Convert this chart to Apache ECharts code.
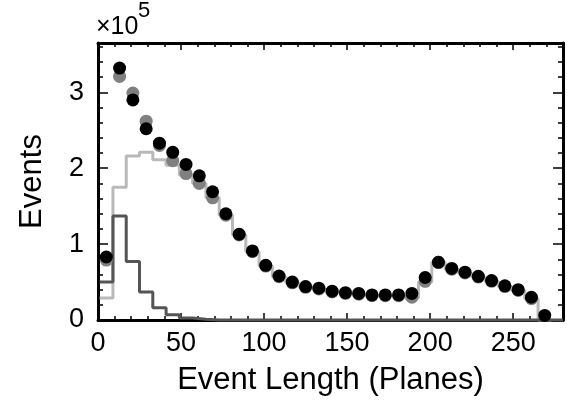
<!DOCTYPE html>
<html>
<head>
<meta charset="utf-8">
<script src="https://cdn.jsdelivr.net/npm/echarts@6/dist/echarts.min.js"></script>
<style>
html,body{margin:0;padding:0;background:#fff;}
#chart{width:567px;height:401px;}
</style>
</head>
<body>
<div id="chart"></div>
<script>
// bin centres (Planes)
const binCenters = [5,13,21,29,37,45,53,61,69,77,85,93,101,109,117,125,133,141,149,157,165,173,181,189,197,205,213,221,229,237,245,253,261,269];
// bin edges (Planes)
const binEdges = [1,9,17,25,33,41,49,57,65,73,81,89,97,105,113,121,129,137,145,153,161,169,177,185,193,201,209,217,225,233,241,249,257,265,273];
// data (black points)
const dataEvents = [83000,332000,290000,252000,233000,221000,205000,190000,169000,140000,113000,91000,72000,58000,50000,44000,42000,38000,36000,35000,33000,33000,33000,35000,56000,76000,68000,63000,57500,52000,45000,40000,30000,6000];
// total simulation (grey points)
const mcTotal = [79000,321000,299000,262000,230000,210000,193000,180000,161000,138000,112000,90000,71000,57000,49000,43000,41000,37000,35000,34000,32000,32000,32000,30000,51000,76000,67000,62000,56500,51000,44000,39000,28000,null];
// light grey histogram
const mcLight = [29000,175000,216000,221000,211000,204000,191000,180000,161000,138000,112000,90000,71000,57000,49000,43000,41000,37000,35000,34000,32000,32000,32000,29000,50000,76000,67000,62000,56500,51000,44000,39000,28000,0];
// dark grey histogram
const mcDark = [50000,137000,77000,37000,16000,7000,2500,1000,0,0,0,0,0,0,0,0,0,0,0,0,0,0,0,0,0,0,0,0,0,0,0,0,0,0];

const xMax = 280;
const yMax = 365000;
const xTickLabels = ['0','50','100','150','200','250'];
const yTickLabels = ['0','1','2','3'];

function stepData(vals, extendTo) {
  const out = vals.map((v, i) => [binEdges[i], v]);
  out.push([binEdges[vals.length], vals[vals.length - 1]]);
  if (extendTo !== undefined) out.push([extendTo, vals[vals.length - 1]]);
  return out;
}
function pts(vals) {
  return vals.map((v, i) => [binCenters[i], v]);
}

const FONT = 'Liberation Sans, Arial, Helvetica, sans-serif';
const axisLineStyle = { show: true, onZero: false, lineStyle: { color: '#000', width: 3 } };
const tickStyle = { color: '#000', width: 1.5 };

function xAx(pos, interval, tickLen, withLabels, withLine) {
  const a = {
    type: 'value', position: pos, min: 0, max: xMax, interval: interval,
    axisLine: withLine ? axisLineStyle : { show: false, onZero: false },
    axisTick: { show: true, inside: true, length: tickLen, lineStyle: tickStyle },
    splitLine: { show: false },
    axisLabel: { show: false }
  };
  if (withLabels) {
    a.axisLabel = {
      show: true, color: '#000', fontSize: 27, fontFamily: FONT, margin: 10,
      showMaxLabel: false,
      formatter: v => { const i = Math.round(v / 50); return xTickLabels[i] !== undefined ? xTickLabels[i] : ''; }
    };
    a.name = 'Event Length (Planes)';
    a.nameLocation = 'middle';
    a.nameGap = 45;
    a.nameTextStyle = { color: '#000', fontSize: 31, fontFamily: FONT };
  }
  return a;
}
function yAx(pos, interval, tickLen, withLabels, withLine) {
  const a = {
    type: 'value', position: pos, min: 0, max: yMax, interval: interval,
    axisLine: withLine ? axisLineStyle : { show: false, onZero: false },
    axisTick: { show: true, inside: true, length: tickLen, lineStyle: tickStyle },
    splitLine: { show: false },
    axisLabel: { show: false }
  };
  if (withLabels) {
    a.axisLabel = {
      show: true, color: '#000', fontSize: 27, fontFamily: FONT, margin: 14,
      showMaxLabel: false,
      formatter: v => { const i = Math.round(v / 100000); return yTickLabels[i] !== undefined ? yTickLabels[i] : ''; }
    };
    a.name = 'Events';
    a.nameLocation = 'middle';
    a.nameGap = 50;
    a.nameTextStyle = { color: '#000', fontSize: 31, fontFamily: FONT };
  }
  return a;
}

const chart = echarts.init(document.getElementById('chart'), null, { renderer: 'canvas' });
chart.setOption({
  animation: false,
  backgroundColor: '#fff',
  grid: { left: 98, right: 4, top: 43, bottom: 80, containLabel: false },
  xAxis: [
    xAx('bottom', 50, 7, true, true),
    xAx('bottom', 10, 4, false, false),
    xAx('top', 50, 7, false, true),
    xAx('top', 10, 4, false, false)
  ],
  yAxis: [
    yAx('left', 100000, 10, true, true),
    yAx('left', 20000, 5, false, false),
    yAx('right', 100000, 10, false, true),
    yAx('right', 20000, 5, false, false)
  ],
  graphic: [
    { type: 'text', left: 96, top: 15, style: { text: '\u00d710', fill: '#000', font: '25px ' + FONT } },
    { type: 'text', left: 138, top: 0, style: { text: '5', fill: '#000', font: '22px ' + FONT } }
  ],
  series: [
    { type: 'line', name: 'light', data: stepData(mcLight), step: 'end', symbol: 'none', clip: false,
      lineStyle: { color: '#b9b9b9', width: 3 }, z: 2 },
    { type: 'line', name: 'dark', data: stepData(mcDark, xMax), step: 'end', symbol: 'none', clip: false,
      lineStyle: { color: '#555555', width: 3 }, z: 3 },
    { type: 'scatter', name: 'mc', data: pts(mcTotal), symbol: 'circle', symbolSize: 13,
      itemStyle: { color: '#808080', opacity: 1 }, z: 4 },
    { type: 'scatter', name: 'data', data: pts(dataEvents), symbol: 'circle', symbolSize: 13,
      itemStyle: { color: '#000', opacity: 1 }, z: 5 }
  ]
});
</script>
</body>
</html>
